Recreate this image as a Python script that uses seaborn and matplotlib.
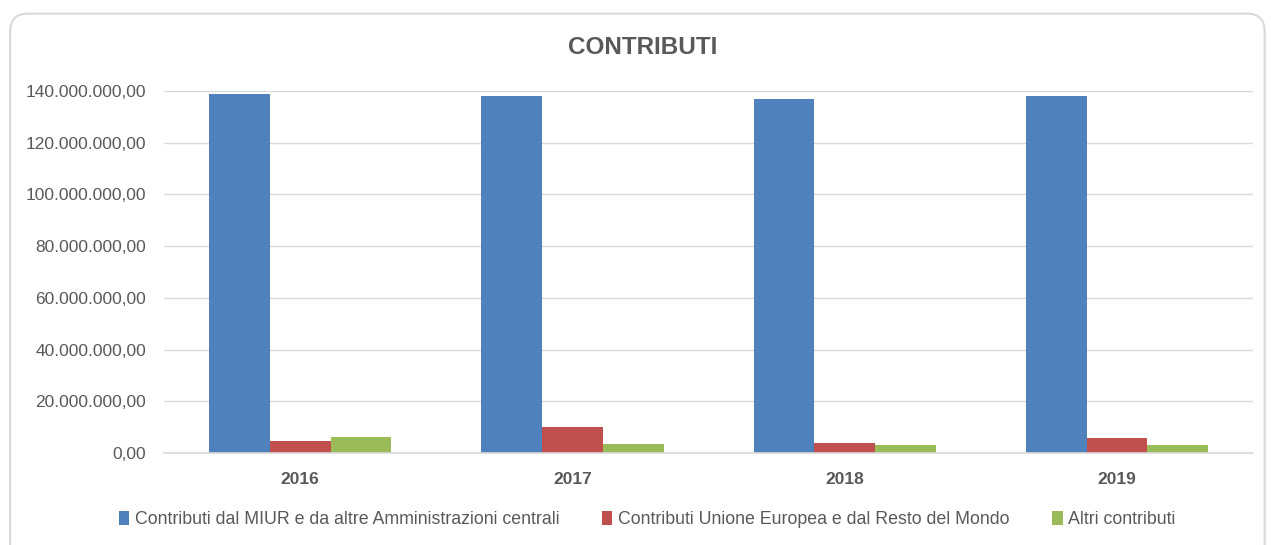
import pandas as pd
import matplotlib.pyplot as plt
import seaborn as sns
from matplotlib.patches import FancyBboxPatch
from matplotlib.ticker import FuncFormatter

# === Data ===
anni = ["2016", "2017", "2018", "2019"]
serie = [
    "Contributi dal MIUR e da altre Amministrazioni centrali",
    "Contributi Unione Europea e dal Resto del Mondo",
    "Altri contributi",
]
miur = [138_700_000, 137_900_000, 137_100_000, 137_900_000]
ue = [4_600_000, 10_200_000, 3_900_000, 5_800_000]
altri = [6_200_000, 3_500_000, 3_100_000, 3_100_000]
colori = ["#4F81BD", "#C0504D", "#9BBB59"]

rows = []
for nome, vals in zip(serie, [miur, ue, altri]):
    for anno, v in zip(anni, vals):
        rows.append({"Anno": anno, "Serie": nome, "Valore": v})
df = pd.DataFrame(rows)

# === Plot ===
sns.set_theme(style="white")
plt.rcParams["font.family"] = ["Liberation Sans", "DejaVu Sans"]
TXT = "#595959"
GRID = "#d9d9d9"

fig = plt.figure(figsize=(12.71, 5.45), dpi=100)
ax = fig.add_axes([0.129, 0.169, 0.857, 0.664])

sns.barplot(data=df, x="Anno", y="Valore", hue="Serie", hue_order=serie,
            palette=colori, width=0.67, linewidth=0, saturation=1, ax=ax)

ax.set_ylim(0, 140_000_000)
ax.set_yticks(range(0, 140_000_001, 20_000_000))
ax.yaxis.set_major_formatter(FuncFormatter(
    lambda v, p: f"{v:,.2f}".replace(",", "X").replace(".", ",").replace("X", ".")))
ax.grid(True, axis="y", color=GRID, linewidth=1)
ax.set_axisbelow(True)
for s in ["top", "right", "left"]:
    ax.spines[s].set_visible(False)
ax.spines["bottom"].set_color(GRID)
ax.spines["bottom"].set_linewidth(1.2)
ax.set_xlabel("")
ax.set_ylabel("")
ax.tick_params(axis="y", labelsize=12.5, labelcolor=TXT, length=0, pad=13)
ax.tick_params(axis="x", labelsize=12.5, labelcolor=TXT, length=0, pad=14)
for t in ax.get_xticklabels():
    t.set_fontweight("bold")

fig.text(0.506, 0.912, "CONTRIBUTI", ha="center", va="center",
         fontsize=17.5, fontweight="bold", color=TXT)

handles, labels = ax.get_legend_handles_labels()
ax.get_legend().remove()
leg = fig.legend(handles, labels, loc="center", bbox_to_anchor=(0.509, 0.046),
                 ncol=3, frameon=False, fontsize=12.8, handlelength=0.6,
                 handleheight=0.8, handletextpad=0.3, columnspacing=2.4)
for t in leg.get_texts():
    t.set_color(TXT)

# chart border (rounded, as in the spreadsheet export)
border = FancyBboxPatch((0.008, -0.05), 0.987, 1.025, transform=fig.transFigure,
                        boxstyle="round,pad=0,rounding_size=0.014",
                        facecolor="none", edgecolor=GRID, linewidth=1.5,
                        mutation_aspect=12.71 / 5.45)
fig.patches.append(border)

plt.savefig("out.png", dpi=100)
plt.close()
